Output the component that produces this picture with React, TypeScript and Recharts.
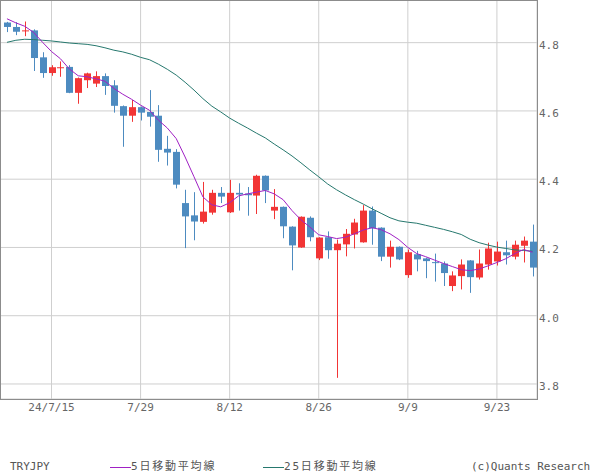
import {
  Bar,
  CartesianGrid,
  ComposedChart,
  Line,
  XAxis,
  YAxis,
} from "recharts";

const dates = [
  "7/8", "7/9", "7/10", "7/11", "7/12", "7/15", "7/16", "7/17", "7/18", "7/19",
  "7/22", "7/23", "7/24", "7/25", "7/26", "7/29", "7/30", "7/31", "8/1", "8/2",
  "8/5", "8/6", "8/7", "8/8", "8/9", "8/12", "8/13", "8/14", "8/15", "8/16",
  "8/19", "8/20", "8/21", "8/22", "8/23", "8/26", "8/27", "8/28", "8/29", "8/30",
  "9/2", "9/3", "9/4", "9/5", "9/6", "9/9", "9/10", "9/11", "9/12", "9/13",
  "9/16", "9/17", "9/18", "9/19", "9/20", "9/23", "9/24", "9/25", "9/26", "9/27",
];

const opens = [
  4.859, 4.846, 4.834, 4.836, 4.757, 4.711, 4.726, 4.729, 4.653, 4.69,
  4.68, 4.702, 4.675, 4.614, 4.586, 4.611, 4.597, 4.586, 4.489, 4.48,
  4.33, 4.294, 4.275, 4.302, 4.36, 4.303, 4.36, 4.358, 4.352, 4.41,
  4.308, 4.319, 4.261, 4.2, 4.287, 4.168, 4.23, 4.192, 4.209, 4.238,
  4.215, 4.308, 4.258, 4.173, 4.202, 4.119, 4.18, 4.168, 4.157, 4.153,
  4.087, 4.116, 4.162, 4.112, 4.15, 4.159, 4.186, 4.173, 4.205, 4.217,
];

const highs = [
  4.861, 4.86, 4.862, 4.839, 4.772, 4.734, 4.745, 4.734, 4.698, 4.712,
  4.716, 4.71, 4.69, 4.616, 4.632, 4.613, 4.661, 4.617, 4.527, 4.488,
  4.369, 4.362, 4.392, 4.369, 4.377, 4.398, 4.388, 4.377, 4.413, 4.411,
  4.371, 4.32, 4.262, 4.291, 4.291, 4.23, 4.247, 4.223, 4.254, 4.284,
  4.324, 4.32, 4.259, 4.22, 4.203, 4.194, 4.19, 4.17, 4.182, 4.159,
  4.13, 4.165, 4.163, 4.194, 4.214, 4.217, 4.22, 4.22, 4.232, 4.267,
];

const lows = [
  4.831, 4.822, 4.819, 4.717, 4.697, 4.703, 4.7, 4.652, 4.621, 4.667,
  4.67, 4.647, 4.595, 4.495, 4.568, 4.572, 4.554, 4.451, 4.44, 4.373,
  4.198, 4.221, 4.27, 4.296, 4.33, 4.301, 4.308, 4.293, 4.298, 4.33,
  4.283, 4.227, 4.133, 4.199, 4.218, 4.163, 4.167, 3.818, 4.174, 4.197,
  4.214, 4.208, 4.16, 4.141, 4.163, 4.111, 4.13, 4.11, 4.1, 4.087,
  4.072, 4.077, 4.067, 4.106, 4.135, 4.147, 4.15, 4.165, 4.156, 4.115,
];

const closes = [
  4.846, 4.832, 4.836, 4.755, 4.711, 4.728, 4.728, 4.653, 4.696, 4.71,
  4.702, 4.673, 4.615, 4.586, 4.611, 4.595, 4.583, 4.486, 4.478, 4.384,
  4.291, 4.276, 4.305, 4.36, 4.349, 4.36, 4.355, 4.353, 4.41, 4.367,
  4.319, 4.262, 4.206, 4.29, 4.23, 4.229, 4.192, 4.211, 4.24, 4.273,
  4.308, 4.256, 4.173, 4.202, 4.165, 4.186, 4.165, 4.16, 4.155, 4.125,
  4.118, 4.15, 4.113, 4.153, 4.197, 4.188, 4.177, 4.208, 4.22, 4.141,
];

// moving averages
const ma5 = [
  4.87, 4.858, 4.848, 4.83, 4.801, 4.774, 4.753, 4.723, 4.703, 4.7,
  4.694, 4.687, 4.666, 4.649, 4.634, 4.617, 4.602, 4.573, 4.55, 4.519,
  4.465, 4.407, 4.348, 4.325, 4.319, 4.331, 4.351, 4.357, 4.362, 4.367,
  4.357, 4.34, 4.308, 4.281, 4.26, 4.237, 4.232, 4.226, 4.23, 4.24,
  4.251, 4.258, 4.252, 4.24, 4.223, 4.2, 4.182, 4.173, 4.163, 4.153,
  4.144, 4.135, 4.132, 4.137, 4.146, 4.156, 4.167, 4.182, 4.194, 4.186,
];

const ma25 = [
  4.801, 4.807, 4.81, 4.809, 4.807, 4.805, 4.802, 4.799, 4.797, 4.795,
  4.791, 4.785, 4.778, 4.773, 4.766, 4.757, 4.75, 4.737, 4.722, 4.705,
  4.684, 4.661, 4.636, 4.614, 4.597, 4.579, 4.564, 4.55, 4.535, 4.521,
  4.503, 4.486, 4.468, 4.448, 4.427, 4.407, 4.386, 4.369, 4.354, 4.34,
  4.327, 4.313, 4.3, 4.287, 4.278, 4.274, 4.271, 4.265, 4.259, 4.253,
  4.246, 4.238, 4.224, 4.214, 4.207, 4.201, 4.197, 4.193, 4.191, 4.189,
];

const xTicks = ["7/15", "7/29", "8/12", "8/26", "9/9", "9/23"];
const yTicks = [3.8, 4.0, 4.2, 4.4, 4.6, 4.8];

const UP = "#f23535";
const DOWN = "#4d8bc0";
const MA5_COLOR = "#a021c4";
const MA25_COLOR = "#26786e";
const MONO = '"DejaVu Sans Mono", "Noto Sans CJK JP", monospace';

const rows = dates.map((date, i) => ({
  date,
  open: opens[i],
  high: highs[i],
  low: lows[i],
  close: closes[i],
  ma5: ma5[i],
  ma25: ma25[i],
}));

const tickStyle = { fill: "#666", fontSize: 11, fontFamily: MONO } as const;

function Candle(props: any) {
  const { x, y, width, height, payload } = props;
  if (x == null || payload == null) return null;
  const { open, close, high, low } = payload;
  const color = close >= open ? UP : DOWN;
  const h = Math.abs(height);
  const top = Math.min(y, y + height);
  const ppu = h / (high - low);
  const yOf = (v: number) => top + (high - v) * ppu;
  const bodyTop = yOf(Math.max(open, close));
  const bodyH = Math.max(1, yOf(Math.min(open, close)) - bodyTop);
  const cx = Math.round(x + width / 2) + 0.5;
  return (
    <g>
      <line x1={cx} x2={cx} y1={top} y2={top + h} stroke={color} strokeWidth={1} />
      <rect x={cx - 3.5} y={bodyTop} width={7} height={bodyH} fill={color} />
    </g>
  );
}

const textRow = {
  position: "absolute",
  top: 460,
  fontFamily: MONO,
  fontSize: 11,
  lineHeight: "14px",
  color: "#555",
  whiteSpace: "nowrap",
} as const;

export default function App() {
  return (
    <div style={{ position: "absolute", left: 0, top: 0, width: 600, height: 475, background: "#fff" }}>
      <ComposedChart
        width={600}
        height={475}
        data={rows}
        margin={{ top: 0, right: 0, left: 0, bottom: 56 }}
      >
        <CartesianGrid stroke="#cfcfcf" />
        <XAxis
          dataKey="date"
          ticks={xTicks}
          interval={0}
          height={20}
          padding={{ left: 2.5, right: 0 }}
          tickLine={false}
          axisLine={false}
          tickSize={2}
          tickMargin={2}
          tick={tickStyle}
          tickFormatter={(v: string) => (v === "7/15" ? "24/7/15" : v)}
        />
        <YAxis
          orientation="right"
          domain={[3.756, 4.925]}
          allowDataOverflow
          ticks={yTicks}
          width={63}
          tickLine={false}
          axisLine={false}
          tickSize={0}
          tickMargin={2}
          tick={{ ...tickStyle, dy: 2 }}
          tickFormatter={(v: number) => v.toFixed(1)}
        />
        <Bar
          dataKey={(d: any) => [d.low, d.high]}
          barSize={7}
          shape={(p: any) => <Candle {...p} />}
          isAnimationActive={false}
        />
        <Line
          type="linear"
          dataKey="ma25"
          stroke={MA25_COLOR}
          strokeWidth={1}
          dot={false}
          activeDot={false}
          isAnimationActive={false}
        />
        <Line
          type="linear"
          dataKey="ma5"
          stroke={MA5_COLOR}
          strokeWidth={1}
          dot={false}
          activeDot={false}
          isAnimationActive={false}
        />
      </ComposedChart>
      <div
        style={{
          position: "absolute",
          left: 0,
          top: 0,
          width: 538,
          height: 400,
          border: "1px solid #8c8c8c",
          boxSizing: "border-box",
          pointerEvents: "none",
        }}
      />
      <div style={{ ...textRow, left: 10 }}>TRYJPY</div>
      <div style={{ position: "absolute", left: 110, top: 467, width: 21, height: 1, background: MA5_COLOR }} />
      <div style={{ ...textRow, left: 131, letterSpacing: "1.8px" }}>5日移動平均線</div>
      <div style={{ position: "absolute", left: 263, top: 467, width: 21, height: 1, background: MA25_COLOR }} />
      <div style={{ ...textRow, left: 284, letterSpacing: "1.8px" }}>25日移動平均線</div>
      <div style={{ ...textRow, left: 471 }}>(c)Quants Research</div>
    </div>
  );
}
